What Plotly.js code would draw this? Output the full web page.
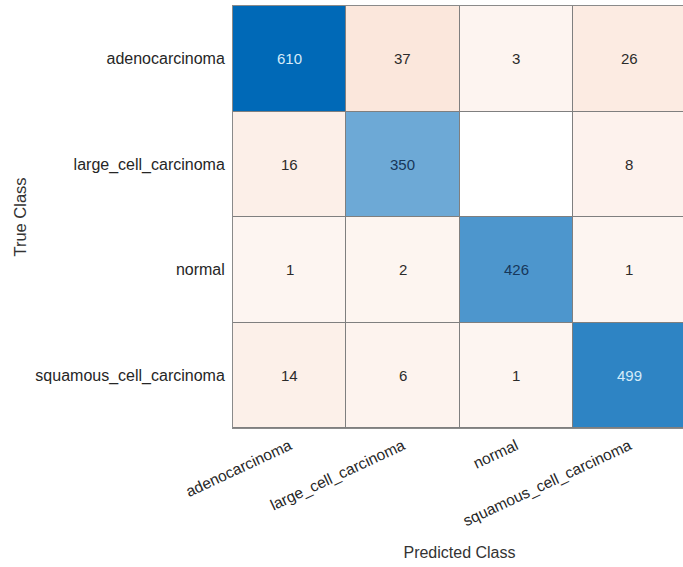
<!DOCTYPE html>
<html>
<head>
<meta charset="utf-8">
<script src="https://cdn.plot.ly/plotly-3.0.1.min.js"></script>
<style>
html,body{margin:0;padding:0;background:#fff;overflow:hidden;}
#chart{width:686px;height:567px;}
</style>
</head>
<body>
<div id="chart"></div>
<script>
// Data
var classes = ["adenocarcinoma", "large_cell_carcinoma", "normal", "squamous_cell_carcinoma"];
var rowAdeno = [610, 37, 3, 26];
var rowLarge = [16, 350, 0, 8];
var rowNormal = [1, 2, 426, 1];
var rowSquam = [14, 6, 1, 499];
var matrix = [rowAdeno, rowLarge, rowNormal, rowSquam];

// Split into diagonal and off-diagonal layers
var diagZ = [], offZ = [];
for (var i = 0; i < matrix.length; i++) {
  var d = [], o = [];
  for (var j = 0; j < matrix[i].length; j++) {
    if (i === j) { d.push(matrix[i][j]); o.push(null); }
    else { d.push(null); o.push(matrix[i][j]); }
  }
  diagZ.push(d); offZ.push(o);
}
var diagMax = 0, offMax = 0;
for (var i = 0; i < matrix.length; i++) for (var j = 0; j < matrix.length; j++) {
  if (i === j) diagMax = Math.max(diagMax, matrix[i][j]);
  else offMax = Math.max(offMax, matrix[i][j]);
}

var traces = [
  {
    type: 'heatmap', x: classes, y: classes, z: offZ,
    zmin: 0, zmax: offMax,
    colorscale: [[0, '#ffffff'], [0.02, '#fdf5f1'], [1, '#fbe7dc']],
    showscale: false, xgap: 1, ygap: 1, hoverinfo: 'skip'
  },
  {
    type: 'heatmap', x: classes, y: classes, z: diagZ,
    zmin: 0, zmax: diagMax,
    colorscale: [[0, '#ffffff'], [1, '#0069b7']],
    showscale: false, xgap: 1, ygap: 1, hoverinfo: 'skip'
  }
];

var annotations = [];
for (var i = 0; i < matrix.length; i++) {
  for (var j = 0; j < matrix[i].length; j++) {
    var v = matrix[i][j];
    if (v === 0) continue;
    var col = '#2b2b2b';
    if (i === j) col = (v / diagMax > 0.75) ? '#d4ebf9' : '#17375a';
    annotations.push({
      x: classes[j], y: classes[i], xref: 'x', yref: 'y',
      text: String(v), showarrow: false,
      font: {family: 'Liberation Sans, Arial, sans-serif', size: 15, color: col}
    });
  }
}

var layout = {
  width: 686, height: 567,
  margin: {l: 233, r: 0, t: 6, b: 139},
  paper_bgcolor: '#ffffff',
  plot_bgcolor: '#7f7f7f',
  font: {family: 'Liberation Sans, Arial, sans-serif', color: '#262626'},
  xaxis: {
    type: 'category', tickangle: -25, ticks: '', showgrid: false, zeroline: false,
    showline: true, mirror: true, linecolor: '#8a8a8a', linewidth: 1,
    tickfont: {size: 15.5, color: '#262626'}, ticklabelstandoff: 2,
    title: {text: 'Predicted Class', font: {size: 16, color: '#333333'}, standoff: 18},
    fixedrange: true
  },
  yaxis: {
    type: 'category', autorange: 'reversed', ticks: '', showgrid: false, zeroline: false,
    showline: true, mirror: true, linecolor: '#8a8a8a', linewidth: 1,
    tickfont: {size: 16, color: '#262626'}, ticklabelstandoff: 4,
    title: {text: 'True Class', font: {size: 16.5, color: '#333333'}, standoff: 4},
    fixedrange: true
  },
  annotations: annotations,
  showlegend: false
};

Plotly.newPlot('chart', traces, layout, {displayModeBar: false, staticPlot: true});
</script>
</body>
</html>
